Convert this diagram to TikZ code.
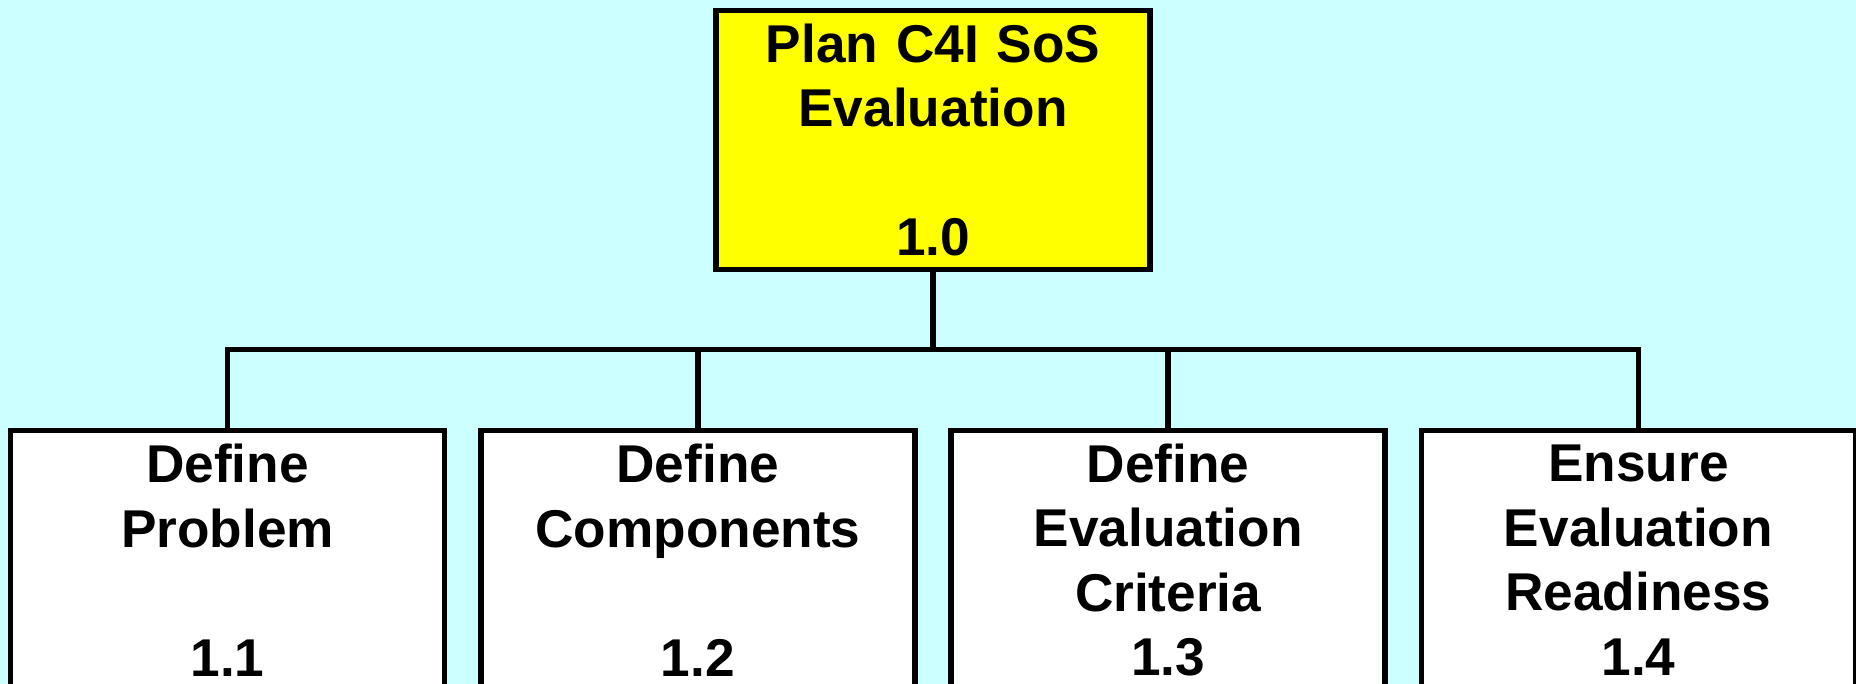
\documentclass[tikz,border=0pt]{standalone}
\usepackage{fontspec}
\setmainfont{Liberation Sans}
\usetikzlibrary{trees}
\definecolor{paleCyan}{RGB}{204,255,255}
\definecolor{planYellow}{RGB}{255,255,0}
\begin{document}
\begin{tikzpicture}[
x=0.5pt,y=-0.5pt,
task/.style={draw=black,line width=2.9pt,fill=white,inner sep=0pt,
  text width=217pt,align=center,minimum height=129.5pt,
  font=\fontsize{26.6}{32.25}\selectfont\bfseries},
level distance=210pt,
sibling distance=235.15pt,
edge from parent/.style={draw=black,line width=2.9pt},
edge from parent path={(\tikzparentnode\tikzparentanchor) -- ++(0,77)
  -| (\tikzchildnode\tikzchildanchor)},
parent anchor=south,
child anchor=north]
\useasboundingbox (0,0) rectangle (1856,684);
\fill[paleCyan] (0,0) rectangle (1856,684);
\clip (0,0) rectangle (1856,684);
\node[task,fill=planYellow] (plan) at (933,140) {Plan C4I SoS\\Evaluation\\ ~\\1.0}
    child {node[task] (problem) {Define\\Problem\\ ~\\1.1}}
    child {node[task] (components) {Define\\Components\\ ~\\1.2}}
    child {node[task] (criteria) {Define\\Evaluation\\Criteria\\1.3}}
    child {node[task] (readiness) {Ensure\\Evaluation\\Readiness\\1.4}};
\end{tikzpicture}
\end{document}
